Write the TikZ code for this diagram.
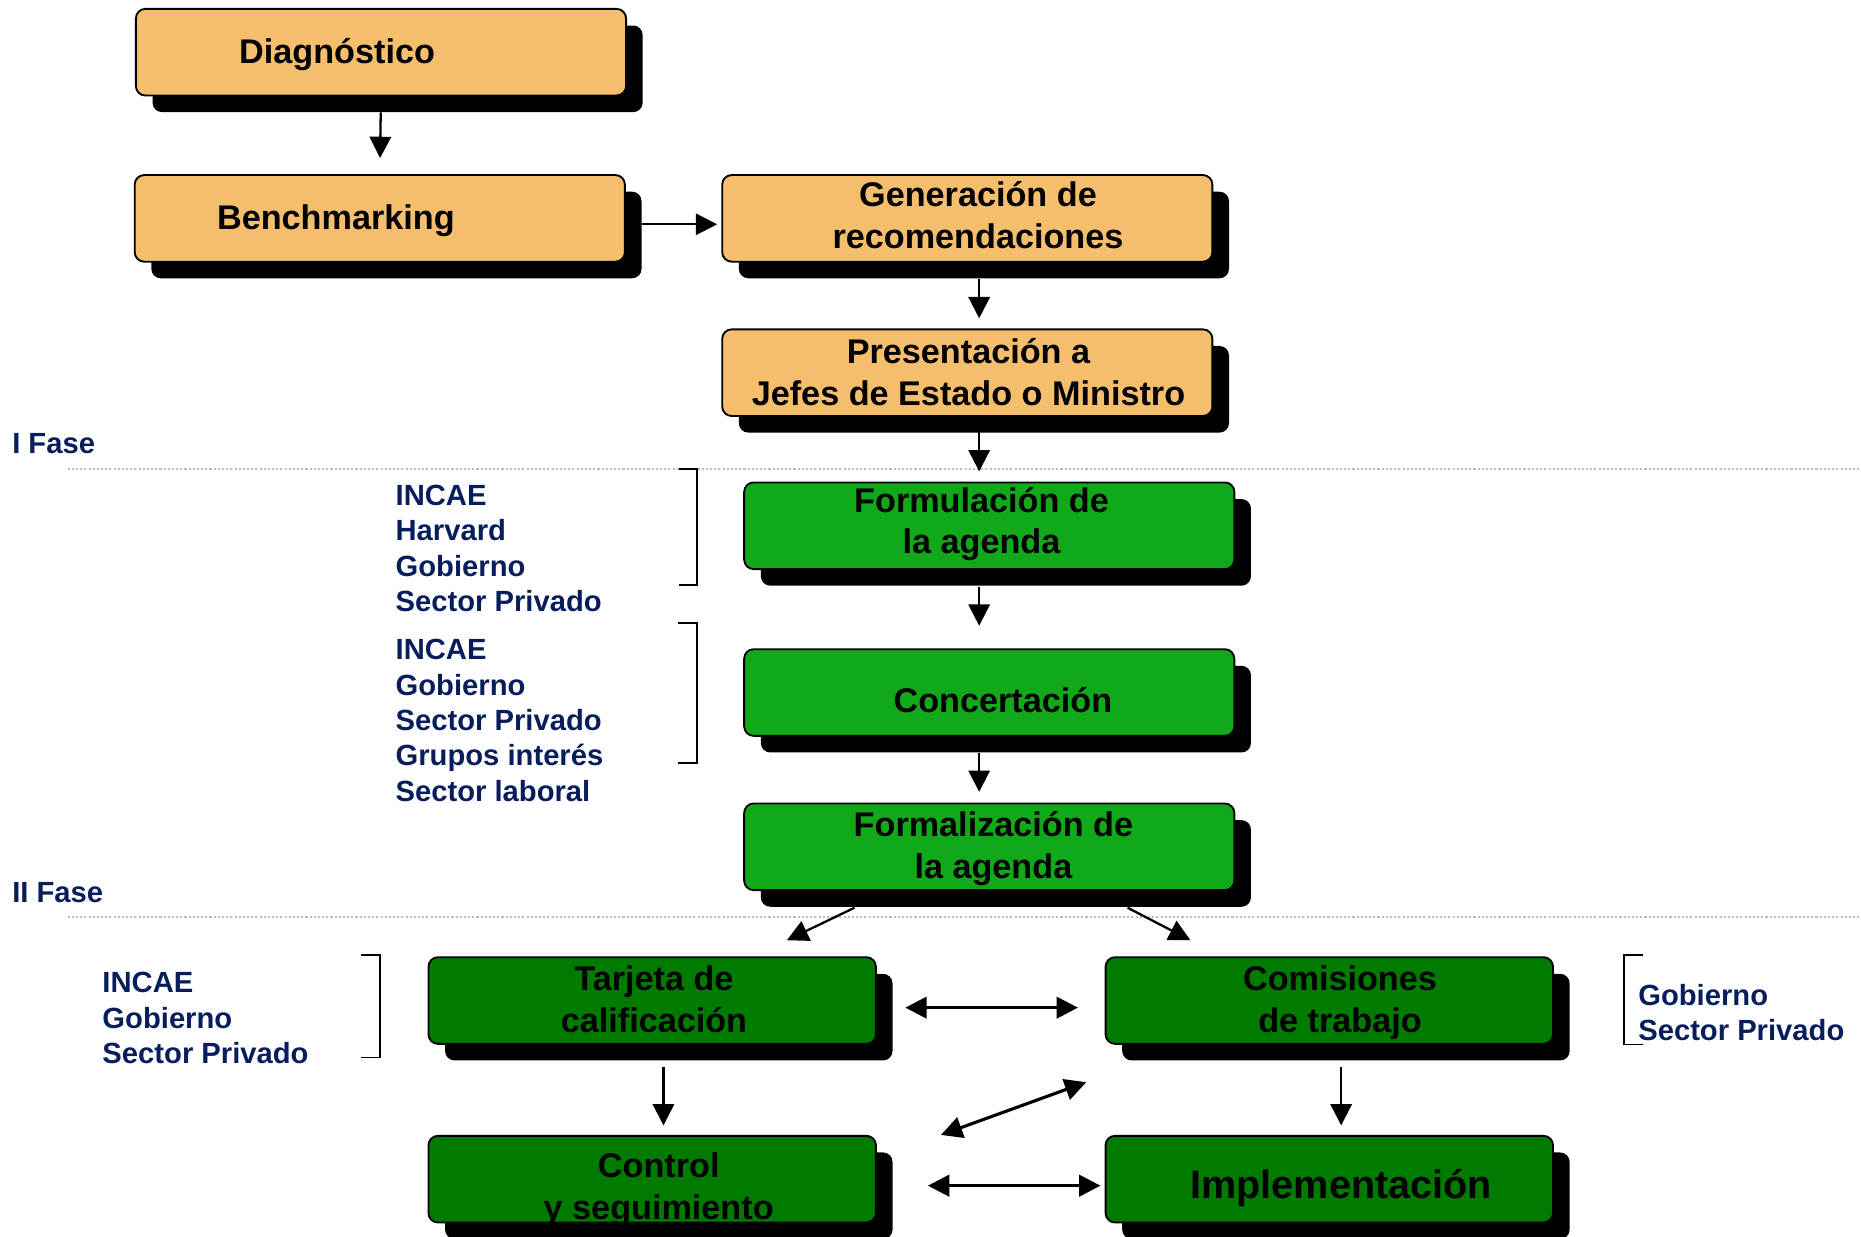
\documentclass[tikz,border=0pt]{standalone}
\usepackage{fontspec}
\setmainfont{Liberation Sans}
\usetikzlibrary{arrows.meta,shadows}
\tikzset{every node/.append style={align=center}}
\definecolor{orangefill}{RGB}{245, 190, 108}
\definecolor{greenfill}{RGB}{17, 168, 26}
\definecolor{darkgreenfill}{RGB}{0, 123, 0}
\definecolor{navytext}{RGB}{8, 30, 92}
\definecolor{dotgray}{RGB}{185, 185, 185}
\tikzset{
  stage/.style={draw=black, line width=0.9pt, rounded corners=0.16cm,
    minimum width=8.26cm, minimum height=1.46cm, inner sep=0pt,
    drop shadow={shadow xshift=0.28cm, shadow yshift=-0.28cm, fill=black, opacity=1}},
  stagetext/.style={inner sep=0pt, font=\fontsize{16.4}{20}\selectfont\bfseries},
  actor/.style={anchor=west, align=left, inner sep=0pt, text=navytext,
    font=\fontsize{14}{17}\selectfont\bfseries},
  flow/.style={-{Triangle[length=0.36cm, width=0.36cm]}, line width=1.1pt},
  link/.style={{Triangle[length=0.36cm, width=0.36cm]}-{Triangle[length=0.36cm, width=0.36cm]}, line width=1.5pt},
  brace/.style={line width=0.9pt}
}

\begin{document}
\begin{tikzpicture}
    \useasboundingbox (0, 0) rectangle (31.36, 20.84);

    % Phase separators
    \draw[dotgray, line width=1pt, densely dotted] (1.14, 12.94) -- (31.36, 12.94);
    \draw[dotgray, line width=1pt, densely dotted] (1.14, 5.38) -- (31.36, 5.38);
    \node[actor] (fase1) at (0.2, 13.36) {I Fase};
    \node[actor] (fase2) at (0.2, 5.80) {II Fase};

    % First phase
    \node[stage, fill=orangefill] (diag) at (6.42, 19.96) {};
    \node[stagetext] (diagtxt) at (5.68, 19.92) {Diagnóstico};

    \node[stage, fill=orangefill] (bench) at (6.40, 17.16) {};
    \node[stagetext] (benchtxt) at (5.66, 17.12) {Benchmarking};

    \node[stage, fill=orangefill] (gen) at (16.30, 17.16) {};
    \node[stagetext] (gentxt) at (16.48, 17.22) {Generación de\\recomendaciones};

    \node[stage, fill=orangefill] (pres) at (16.30, 14.56) {};
    \node[stagetext] (prestxt) at (16.32, 14.57) {Presentación a\\Jefes de Estado o Ministro};

    \node[stage, fill=greenfill] (form) at (16.67, 11.98) {};
    \node[stagetext] (formtxt) at (16.54, 12.01) {Formulación de\\la agenda};

    \node[stage, fill=greenfill] (conc) at (16.67, 9.17) {};
    \node[stagetext] (conctxt) at (16.90, 9.04) {Concertación};

    \node[stage, fill=greenfill] (fmlz) at (16.67, 6.57) {};
    \node[stagetext] (fmlztxt) at (16.74, 6.54) {Formalización de\\la agenda};

    % Second phase
    \node[stage, fill=darkgreenfill, minimum width=7.54cm] (tarj) at (10.99, 3.98) {};
    \node[stagetext] (tarjtxt) at (11.02, 4.00) {Tarjeta de\\calificación};

    \node[stage, fill=darkgreenfill, minimum width=7.54cm] (comi) at (22.40, 3.98) {};
    \node[stagetext] (comitxt) at (22.58, 3.95) {Comisiones\\de trabajo};

    \node[stage, fill=darkgreenfill, minimum width=7.54cm] (ctrl) at (10.99, 0.97) {};
    \node[stagetext] (ctrltxt) at (11.10, 0.79) {Control\\y seguimiento};

    \node[stage, fill=darkgreenfill, minimum width=7.54cm] (impl) at (22.40, 0.97) {};
    \node[stagetext, font=\fontsize{19}{23}\selectfont\bfseries] (impltxt) at (22.60, 0.82) {Implementación};

    % Participants
    \node[actor] (grp1) at (6.66, 11.60) {INCAE\\Harvard\\Gobierno\\Sector Privado};
    \draw[brace] (11.44, 12.94) -- (11.74, 12.94) -- (11.74, 10.98) -- (11.44, 10.98);

    \node[actor] (grp2) at (6.66, 8.70) {INCAE\\Gobierno\\Sector Privado\\Grupos interés\\Sector laboral};
    \draw[brace] (11.42, 10.34) -- (11.74, 10.34) -- (11.74, 7.98) -- (11.42, 7.98);

    \node[actor] (grp3) at (1.72, 3.68) {INCAE\\Gobierno\\Sector Privado};
    \draw[brace] (6.08, 4.74) -- (6.40, 4.74) -- (6.40, 3.02) -- (6.08, 3.02);

    \node[actor] (grp4) at (27.60, 3.78) {Gobierno\\Sector Privado};
    \draw[brace] (27.68, 4.74) -- (27.36, 4.74) -- (27.36, 3.24) -- (27.68, 3.24);

    % Flows
    \draw[flow, shorten <=0.27cm, shorten >=0.27cm] (diag.south) -- (bench.north);
    \draw[flow, shorten <=0.27cm, shorten >=0.07cm] ([yshift=-0.1cm]bench.east) -- ([yshift=-0.1cm]gen.west);
    \draw[flow, shorten <=0.27cm, shorten >=0.17cm] ([xshift=0.2cm]gen.south) -- ([xshift=0.2cm]pres.north);
    \draw[flow, shorten <=0.25cm, shorten >=0.17cm] ([xshift=0.2cm]pres.south) -- ([xshift=-0.17cm]form.north);
    \draw[flow, shorten <=0.29cm, shorten >=0.38cm] ([xshift=-0.17cm]form.south) -- ([xshift=-0.17cm]conc.north);
    \draw[flow, shorten <=0.28cm, shorten >=0.18cm] ([xshift=-0.17cm]conc.south) -- ([xshift=-0.17cm]fmlz.north);
    \draw[flow] ([xshift=-2.27cm, yshift=-0.28cm]fmlz.south) -- ([xshift=2.27cm, yshift=0.27cm]tarj.north);
    \draw[flow] ([xshift=2.33cm, yshift=-0.28cm]fmlz.south) -- ([xshift=-2.34cm, yshift=0.27cm]comi.north);
    \draw[flow, shorten <=0.37cm, shorten >=0.16cm] ([xshift=0.19cm]tarj.south) -- ([xshift=0.19cm]ctrl.north);
    \draw[flow, shorten <=0.37cm, shorten >=0.16cm] ([xshift=0.2cm]comi.south) -- ([xshift=0.2cm]impl.north);

    % Two-way links
    \draw[link, shorten <=0.48cm, shorten >=0.45cm] ([yshift=-0.12cm]tarj.east) -- ([yshift=-0.12cm]comi.west);
    \draw[link] ([xshift=1.08cm]ctrl.north east) -- ([xshift=-0.31cm, yshift=-0.63cm]comi.south west);
    \draw[link, shorten <=0.86cm, shorten >=0.07cm] ([yshift=-0.11cm]ctrl.east) -- ([yshift=-0.11cm]impl.west);
\end{tikzpicture}
\end{document}
